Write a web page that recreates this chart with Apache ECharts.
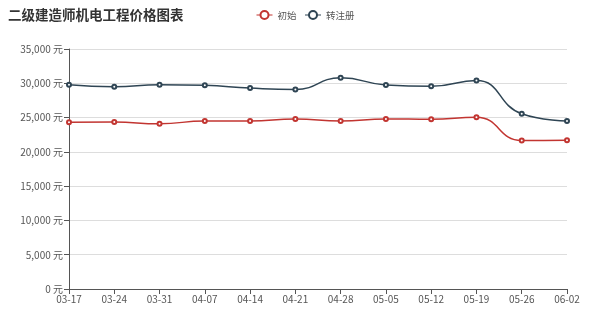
<!DOCTYPE html>
<html><head><meta charset="utf-8">
<script src="https://cdn.jsdelivr.net/npm/echarts@6/dist/echarts.min.js"></script>
<style>html,body{margin:0;padding:0;background:#fff}#c{width:600px;height:318px}</style>
</head><body><div id="c"></div>
<script>
const categories = ['03-17','03-24','03-31','04-07','04-14','04-21','04-28','05-05','05-12','05-19','05-26','06-02'];
const initialValues = [24300,24350,24100,24500,24500,24800,24500,24800,24750,25050,21650,21700];
const transferValues = [29800,29500,29800,29700,29300,29100,30800,29750,29550,30400,25550,24500];
const seriesNames = ['初始','转注册'];
const titleText = '二级建造师机电工程价格图表';
const FONT = '"Noto Sans CJK SC", sans-serif';
const chart = echarts.init(document.getElementById('c'));
chart.setOption({
  animation:false,
  color:['#c23531','#2f4554'],
  textStyle:{fontFamily:FONT},
  title:{text:titleText,left:3,top:3,textStyle:{fontSize:13.5,fontWeight:'bold',color:'#333',fontFamily:FONT}},
  legend:{data:seriesNames,top:5,left:251,itemWidth:16,itemHeight:10,itemGap:8,
    itemStyle:{borderWidth:0.8},lineStyle:{width:1},
    textStyle:{fontSize:9.5,color:'#555',fontFamily:FONT}},
  grid:{left:69,right:33,top:49,bottom:29},
  xAxis:{type:'category',boundaryGap:false,data:categories,
    axisLine:{lineStyle:{color:'#555'}},axisTick:{lineStyle:{color:'#555'}},
    axisLabel:{color:'#555',fontSize:10,margin:5}},
  yAxis:{type:'value',min:0,max:35000,interval:5000,
    axisLine:{show:true,lineStyle:{color:'#555'}},axisTick:{show:true},
    axisLabel:{color:'#555',fontSize:10,margin:6,formatter:v=>v.toLocaleString('en-US')+' 元'},
    splitLine:{lineStyle:{color:'#ddd'}}},
  series:[
    {name:seriesNames[0],type:'line',smooth:true,data:initialValues,symbol:'emptyCircle',symbolSize:4,itemStyle:{borderWidth:1},lineStyle:{width:1.5}},
    {name:seriesNames[1],type:'line',smooth:true,data:transferValues,symbol:'emptyCircle',symbolSize:4,itemStyle:{borderWidth:1},lineStyle:{width:1.5}}
  ]
});
</script></body></html>
